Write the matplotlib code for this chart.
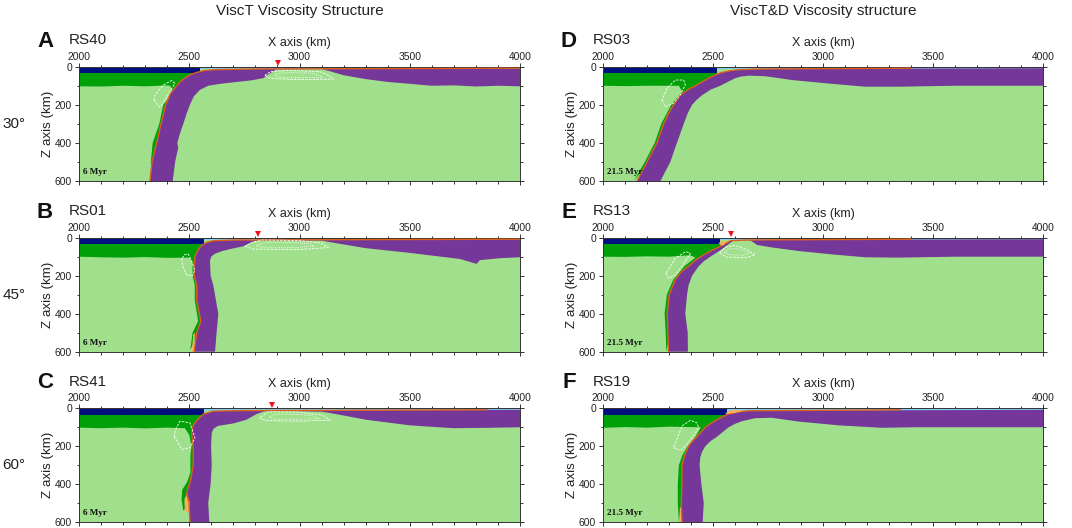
import matplotlib
matplotlib.use('Agg')
import matplotlib.pyplot as plt
import numpy as np

plt.rcParams['font.family'] = ['Liberation Sans', 'DejaVu Sans']

W, H = 1072, 528

# colours
MANTLE = '#a0e08c'
PURPLE = '#75389a'
NAVY = '#000f80'
GREEN = '#00a008'
ORANGE = '#dd5f1c'
PALE = '#f8b060'
SKY = '#7fd0ee'
AXC = '#333333'

# tick labels
x_ticks = [2000, 2500, 3000, 3500, 4000]
z_ticks = [0, 200, 400, 600]

# A RS40
left_x_a = [2322, 2331, 2352, 2372, 2393, 2415, 2443, 2460, 2480, 2505, 2533, 2570, 2624, 2800]
left_z_a = [600, 500, 400, 300, 200, 140, 100, 78, 60, 42, 30, 20, 15, 12]
right_x_a = [2425, 2436, 2450, 2446, 2458, 2473, 2490, 2503, 2520, 2548, 2586, 2640, 2700, 2780, 2836, 2866, 2896, 2950, 3100, 3150, 3200, 3300, 3400, 3500, 3600, 3700, 3800, 3900, 4000]
right_z_a = [600, 500, 425, 400, 350, 300, 240, 200, 157, 122, 100, 90, 82, 72, 60, 35, 14, 14, 12, 28, 45, 65, 80, 90, 100, 98, 104, 100, 103]
green_x_a = [2325, 2334, 2364, 2382, 2428, 2413, 2398, 2300, 2200, 2100, 2000]
green_z_a = [510, 400, 300, 200, 130, 100, 98, 103, 100, 104, 103]
wedge_x_a = [2340, 2367, 2390, 2435, 2420, 2382, 2345]
wedge_z_a = [175, 213, 175, 87, 73, 96, 148]
lump_x_a = [2843, 2870, 3000, 3153, 3140, 3090, 2950, 2870]
lump_z_a = [45, 62, 68, 65, 50, 25, 20, 25]

# B RS01
left_x_b = [2522, 2534, 2552, 2546, 2534, 2534, 2522, 2522, 2526, 2537, 2556, 2580, 2609, 2700]
left_z_b = [600, 500, 440, 400, 330, 250, 200, 150, 100, 70, 40, 24, 16, 12]
right_x_b = [2617, 2624, 2632, 2624, 2609, 2597, 2594, 2600, 2615, 2650, 2685, 2745, 2790, 2815, 3000, 3100, 3131, 3300, 3500, 3728, 3803, 3818, 3909, 4000]
right_z_b = [600, 500, 400, 350, 250, 200, 120, 100, 85, 70, 60, 45, 20, 13, 15, 15, 22, 55, 80, 112, 138, 118, 108, 103]
green_x_b = [2505, 2515, 2540, 2535, 2525, 2525, 2515, 2515, 2500, 2400, 2300, 2200, 2100, 2000]
green_z_b = [590, 500, 440, 400, 330, 250, 200, 130, 105, 106, 102, 105, 103, 100]
wedge_x_b = [2466, 2470, 2490, 2515, 2525, 2510, 2495, 2480]
wedge_z_b = [110, 150, 200, 200, 170, 120, 85, 90]
lump_x_b = [2753, 2790, 3000, 3131, 3100, 3000, 2830, 2780]
lump_z_b = [45, 60, 62, 52, 28, 15, 12, 28]

# C RS41
left_x_c = [2503, 2499, 2488, 2495, 2506, 2518, 2518, 2511, 2518, 2537, 2564, 2609, 2750]
left_z_c = [600, 500, 450, 420, 380, 300, 200, 130, 90, 60, 30, 15, 12]
right_x_c = [2591, 2586, 2597, 2602, 2599, 2602, 2610, 2630, 2700, 2760, 2806, 2843, 2975, 3100, 3140, 3300, 3500, 3700, 3850, 4000]
right_z_c = [600, 500, 400, 300, 200, 130, 108, 93, 80, 60, 30, 15, 15, 18, 25, 60, 90, 105, 103, 100]
green_x_c = [2473, 2465, 2468, 2490, 2505, 2505, 2510, 2500, 2480, 2400, 2300, 2200, 2100, 2000]
green_z_c = [540, 480, 430, 390, 340, 250, 200, 140, 105, 102, 106, 102, 105, 102]
wedge_x_c = [2432, 2466, 2503, 2526, 2503, 2458, 2438]
wedge_z_c = [147, 217, 208, 156, 77, 68, 112]
lump_x_c = [2818, 2850, 3000, 3141, 3100, 3000, 2860]
lump_z_c = [50, 65, 68, 62, 35, 20, 18]
pale_x_c = [2480, 2500, 2503, 2490, 2478]
pale_z_c = [545, 550, 500, 450, 480]

# D RS03
left_x_d = [2155, 2200, 2245, 2276, 2300, 2321, 2351, 2385, 2420, 2450, 2480, 2510, 2541, 2580, 2617, 2680, 2738]
left_z_d = [600, 500, 400, 300, 240, 200, 150, 122, 100, 80, 60, 43, 30, 21, 16, 13, 12]
right_x_d = [2261, 2306, 2336, 2367, 2385, 2405, 2425, 2450, 2490, 2533, 2570, 2602, 2630, 2662, 2738, 2859, 3041, 3192, 3344, 3600, 4000]
right_z_d = [600, 500, 400, 300, 245, 200, 175, 150, 120, 100, 78, 60, 51, 47, 50, 70, 90, 105, 105, 100, 100]
green_x_d = [2140, 2190, 2235, 2265, 2310, 2360, 2345, 2200, 2100, 2000]
green_z_d = [600, 500, 400, 300, 200, 130, 100, 100, 102, 100]
wedge_x_d = [2268, 2283, 2321, 2351, 2374, 2367, 2329, 2291]
wedge_z_d = [175, 210, 192, 148, 96, 70, 70, 113]

# E RS13
left_x_e = [2298, 2295, 2292, 2301, 2329, 2355, 2389, 2420, 2458, 2492, 2526, 2555, 2579, 2650]
left_z_e = [600, 500, 400, 300, 220, 180, 150, 118, 90, 68, 50, 32, 16, 12]
right_x_e = [2386, 2385, 2374, 2382, 2389, 2405, 2435, 2460, 2488, 2541, 2575, 2595, 2670, 2700, 2760, 2889, 3041, 3192, 3344, 3600, 4000]
right_z_e = [600, 500, 400, 300, 250, 200, 150, 122, 100, 60, 30, 14, 14, 38, 50, 70, 88, 103, 105, 100, 100]
green_x_e = [2288, 2285, 2280, 2290, 2320, 2370, 2420, 2397, 2300, 2200, 2100, 2000]
green_z_e = [600, 500, 400, 300, 220, 150, 105, 92, 100, 98, 101, 100]
wedge_x_e = [2286, 2298, 2329, 2374, 2397, 2377, 2329]
wedge_z_e = [187, 213, 196, 126, 82, 73, 108]
lump_x_e = [2529, 2560, 2650, 2692, 2650, 2600, 2555]
lump_z_e = [80, 102, 105, 90, 60, 40, 50]
tip_x_e = [2525, 2545, 2560, 2540]
tip_z_e = [30, 42, 22, 16]

# F RS19
left_x_f = [2359, 2356, 2359, 2359, 2371, 2389, 2405, 2427, 2465, 2490, 2518, 2545, 2571, 2610, 2662]
left_z_f = [600, 500, 400, 300, 250, 200, 175, 150, 100, 80, 60, 44, 30, 20, 13]
right_x_f = [2453, 2458, 2447, 2439, 2442, 2450, 2465, 2490, 2518, 2571, 2600, 2632, 2692, 2768, 2889, 3071, 3268, 3420, 4000]
right_z_f = [600, 500, 400, 300, 260, 230, 200, 172, 150, 100, 82, 68, 52, 50, 70, 90, 103, 100, 100]
green_x_f = [2345, 2340, 2340, 2345, 2360, 2385, 2420, 2445, 2300, 2200, 2100, 2000]
green_z_f = [600, 500, 400, 300, 250, 200, 150, 100, 97, 102, 99, 103]
wedge_x_f = [2321, 2352, 2389, 2435, 2427, 2397, 2359]
wedge_z_f = [208, 222, 182, 103, 77, 63, 94]
pale_x_f = [2346, 2358, 2358, 2350]
pale_z_f = [600, 600, 530, 520]
tip_x_f = [2555, 2600, 2640, 2600, 2570]
tip_z_f = [30, 25, 12, 8, 14]

# deep pale strip in B
pale_x_b = [2512, 2522, 2526, 2518]
pale_z_b = [600, 600, 500, 510]


def to_fig(px, py):
    return px / W, 1 - py / H


def draw_panel(ax, letter, name, age, lx, lz, rx, rz, gx, gz, crust_end, orange_end,
               wedge=None, lump=None, pale=None, tip=None, volcano=None):
    ax.set_xlim(2000, 4000)
    ax.set_ylim(600, 0)
    ax.set_facecolor(MANTLE)
    ax.fill_between([2000, 4000], 0, 14, color=SKY, lw=0, zorder=1)

    # green lithosphere, then the slab on top
    lx = np.array(lx)
    lz = np.array(lz)
    keep = (lz > 33) & (lz < gz[0])
    poly_x = list(gx) + [2000, crust_end] + list(lx[keep][::-1] + 10)
    poly_z = list(gz) + [33, 33] + list(lz[keep][::-1])
    ax.fill(poly_x, poly_z, color=GREEN, lw=0, zorder=2)
    ax.fill_between([2000, crust_end], 5, 33, color=NAVY, lw=0, zorder=2)

    slab_x = list(lx) + [4000] + list(rx[::-1])
    slab_z = list(lz) + [8] + list(rz[::-1])
    ax.fill(slab_x, slab_z, color=PURPLE, lw=0, zorder=3)

    if pale is not None:
        ax.fill(pale[0], pale[1], color=PALE, lw=0, zorder=4)
    ax.plot(list(lx) + [orange_end], list(lz) + [8], color=ORANGE, lw=1.0, zorder=5,
            solid_joinstyle='round')
    if tip is not None:
        ax.fill(tip[0], tip[1], color=PALE, lw=0, zorder=6)

    for loop in [wedge, lump]:
        if loop is not None:
            ax.fill(loop[0], loop[1], fill=False, ec='white', lw=0.6, ls=(0, (3, 1.5)), zorder=7)
    if lump is not None:
        cx, cz = np.mean(lump[0]), np.mean(lump[1])
        ax.fill(cx + (np.array(lump[0]) - cx) * 0.7, cz + (np.array(lump[1]) - cz) * 0.55,
                fill=False, ec='white', lw=0.5, ls=(0, (1.5, 1.5)), zorder=7)

    if volcano is not None:
        ax.plot([volcano], [-17], marker='v', color='#f01020', ms=4.6, mew=0, clip_on=False, zorder=8)

    ax.text(2020, 555, age, family='Liberation Serif', weight='bold', fontsize=6.6, color='#111111',
            va='center', ha='left', zorder=9)

    ax.set_xticks(x_ticks)
    ax.set_xticks(np.arange(2000, 4001, 100), minor=True)
    ax.set_yticks(z_ticks)
    ax.set_yticks(np.arange(0, 601, 100), minor=True)
    ax.tick_params(axis='x', which='both', top=True, bottom=True, labeltop=True, labelbottom=False,
                   direction='out', color=AXC, width=0.7)
    ax.tick_params(axis='y', which='both', left=True, right=True, direction='out', color=AXC, width=0.7)
    ax.tick_params(which='major', length=3, labelsize=7.4, labelcolor='#222222', pad=2)
    ax.tick_params(axis='x', which='major', pad=0.6)
    ax.tick_params(which='minor', length=1.8)
    for s in ax.spines.values():
        s.set_color(AXC)
        s.set_linewidth(0.7)

    bb = ax.get_position()
    x0 = bb.x0 * W
    y0 = (1 - bb.y1) * H
    fig.text(*to_fig(x0 - 34, y0 - 25.5), letter, fontsize=16, weight='bold', ha='center', va='center', color='#111111')
    fig.text(*to_fig(x0 - 10, y0 - 26.5), name, fontsize=11, ha='left', va='center', color='#222222')
    fig.text(*to_fig(x0 + 220.5, y0 - 24), 'X axis (km)', fontsize=9, ha='center', va='center', color='#222222')
    fig.text(*to_fig(x0 - 31, y0 + 57), 'Z axis (km)', fontsize=9.6, rotation=90, ha='center', va='center', color='#222222')


fig = plt.figure(figsize=(W / 100, H / 100), dpi=100)

col_px = [(79, 520), (603, 1043)]
row_px = [(66.7, 181), (237.7, 351.7), (408.3, 522)]


def make_ax(col, row):
    l, r = col_px[col]
    t, b = row_px[row]
    return fig.add_axes([l / W, 1 - b / H, (r - l) / W, (b - t) / H])


draw_panel(make_ax(0, 0), 'A', 'RS40', '6 Myr', left_x_a, left_z_a, right_x_a, right_z_a, green_x_a, green_z_a,
           2549, 4000, wedge=(wedge_x_a, wedge_z_a), lump=(lump_x_a, lump_z_a), volcano=2901)
draw_panel(make_ax(0, 1), 'B', 'RS01', '6 Myr', left_x_b, left_z_b, right_x_b, right_z_b, green_x_b, green_z_b,
           2567, 4000, wedge=(wedge_x_b, wedge_z_b), lump=(lump_x_b, lump_z_b), pale=(pale_x_b, pale_z_b), volcano=2813)
draw_panel(make_ax(0, 2), 'C', 'RS41', '6 Myr', left_x_c, left_z_c, right_x_c, right_z_c, green_x_c, green_z_c,
           2567, 3850, wedge=(wedge_x_c, wedge_z_c), lump=(lump_x_c, lump_z_c), pale=(pale_x_c, pale_z_c), volcano=2874)
draw_panel(make_ax(1, 0), 'D', 'RS03', '21.5 Myr', left_x_d, left_z_d, right_x_d, right_z_d, green_x_d, green_z_d,
           2518, 3400, wedge=(wedge_x_d, wedge_z_d))
draw_panel(make_ax(1, 1), 'E', 'RS13', '21.5 Myr', left_x_e, left_z_e, right_x_e, right_z_e, green_x_e, green_z_e,
           2533, 3400, wedge=(wedge_x_e, wedge_z_e), lump=(lump_x_e, lump_z_e), tip=(tip_x_e, tip_z_e), volcano=2580)
draw_panel(make_ax(1, 2), 'F', 'RS19', '21.5 Myr', left_x_f, left_z_f, right_x_f, right_z_f, green_x_f, green_z_f,
           2564, 3350, wedge=(wedge_x_f, wedge_z_f), pale=(pale_x_f, pale_z_f), tip=(tip_x_f, tip_z_f))

fig.text(*to_fig(300, 11), 'ViscT Viscosity Structure', fontsize=11, ha='center', va='center', color='#222222')
fig.text(*to_fig(823, 11), 'ViscT&D Viscosity structure', fontsize=11, ha='center', va='center', color='#222222')

for label, py in zip(['30°', '45°', '60°'], [124, 295, 465]):
    fig.text(*to_fig(14, py), label, fontsize=11, ha='center', va='center', color='#222222')

fig.savefig('out.png', dpi=100)
